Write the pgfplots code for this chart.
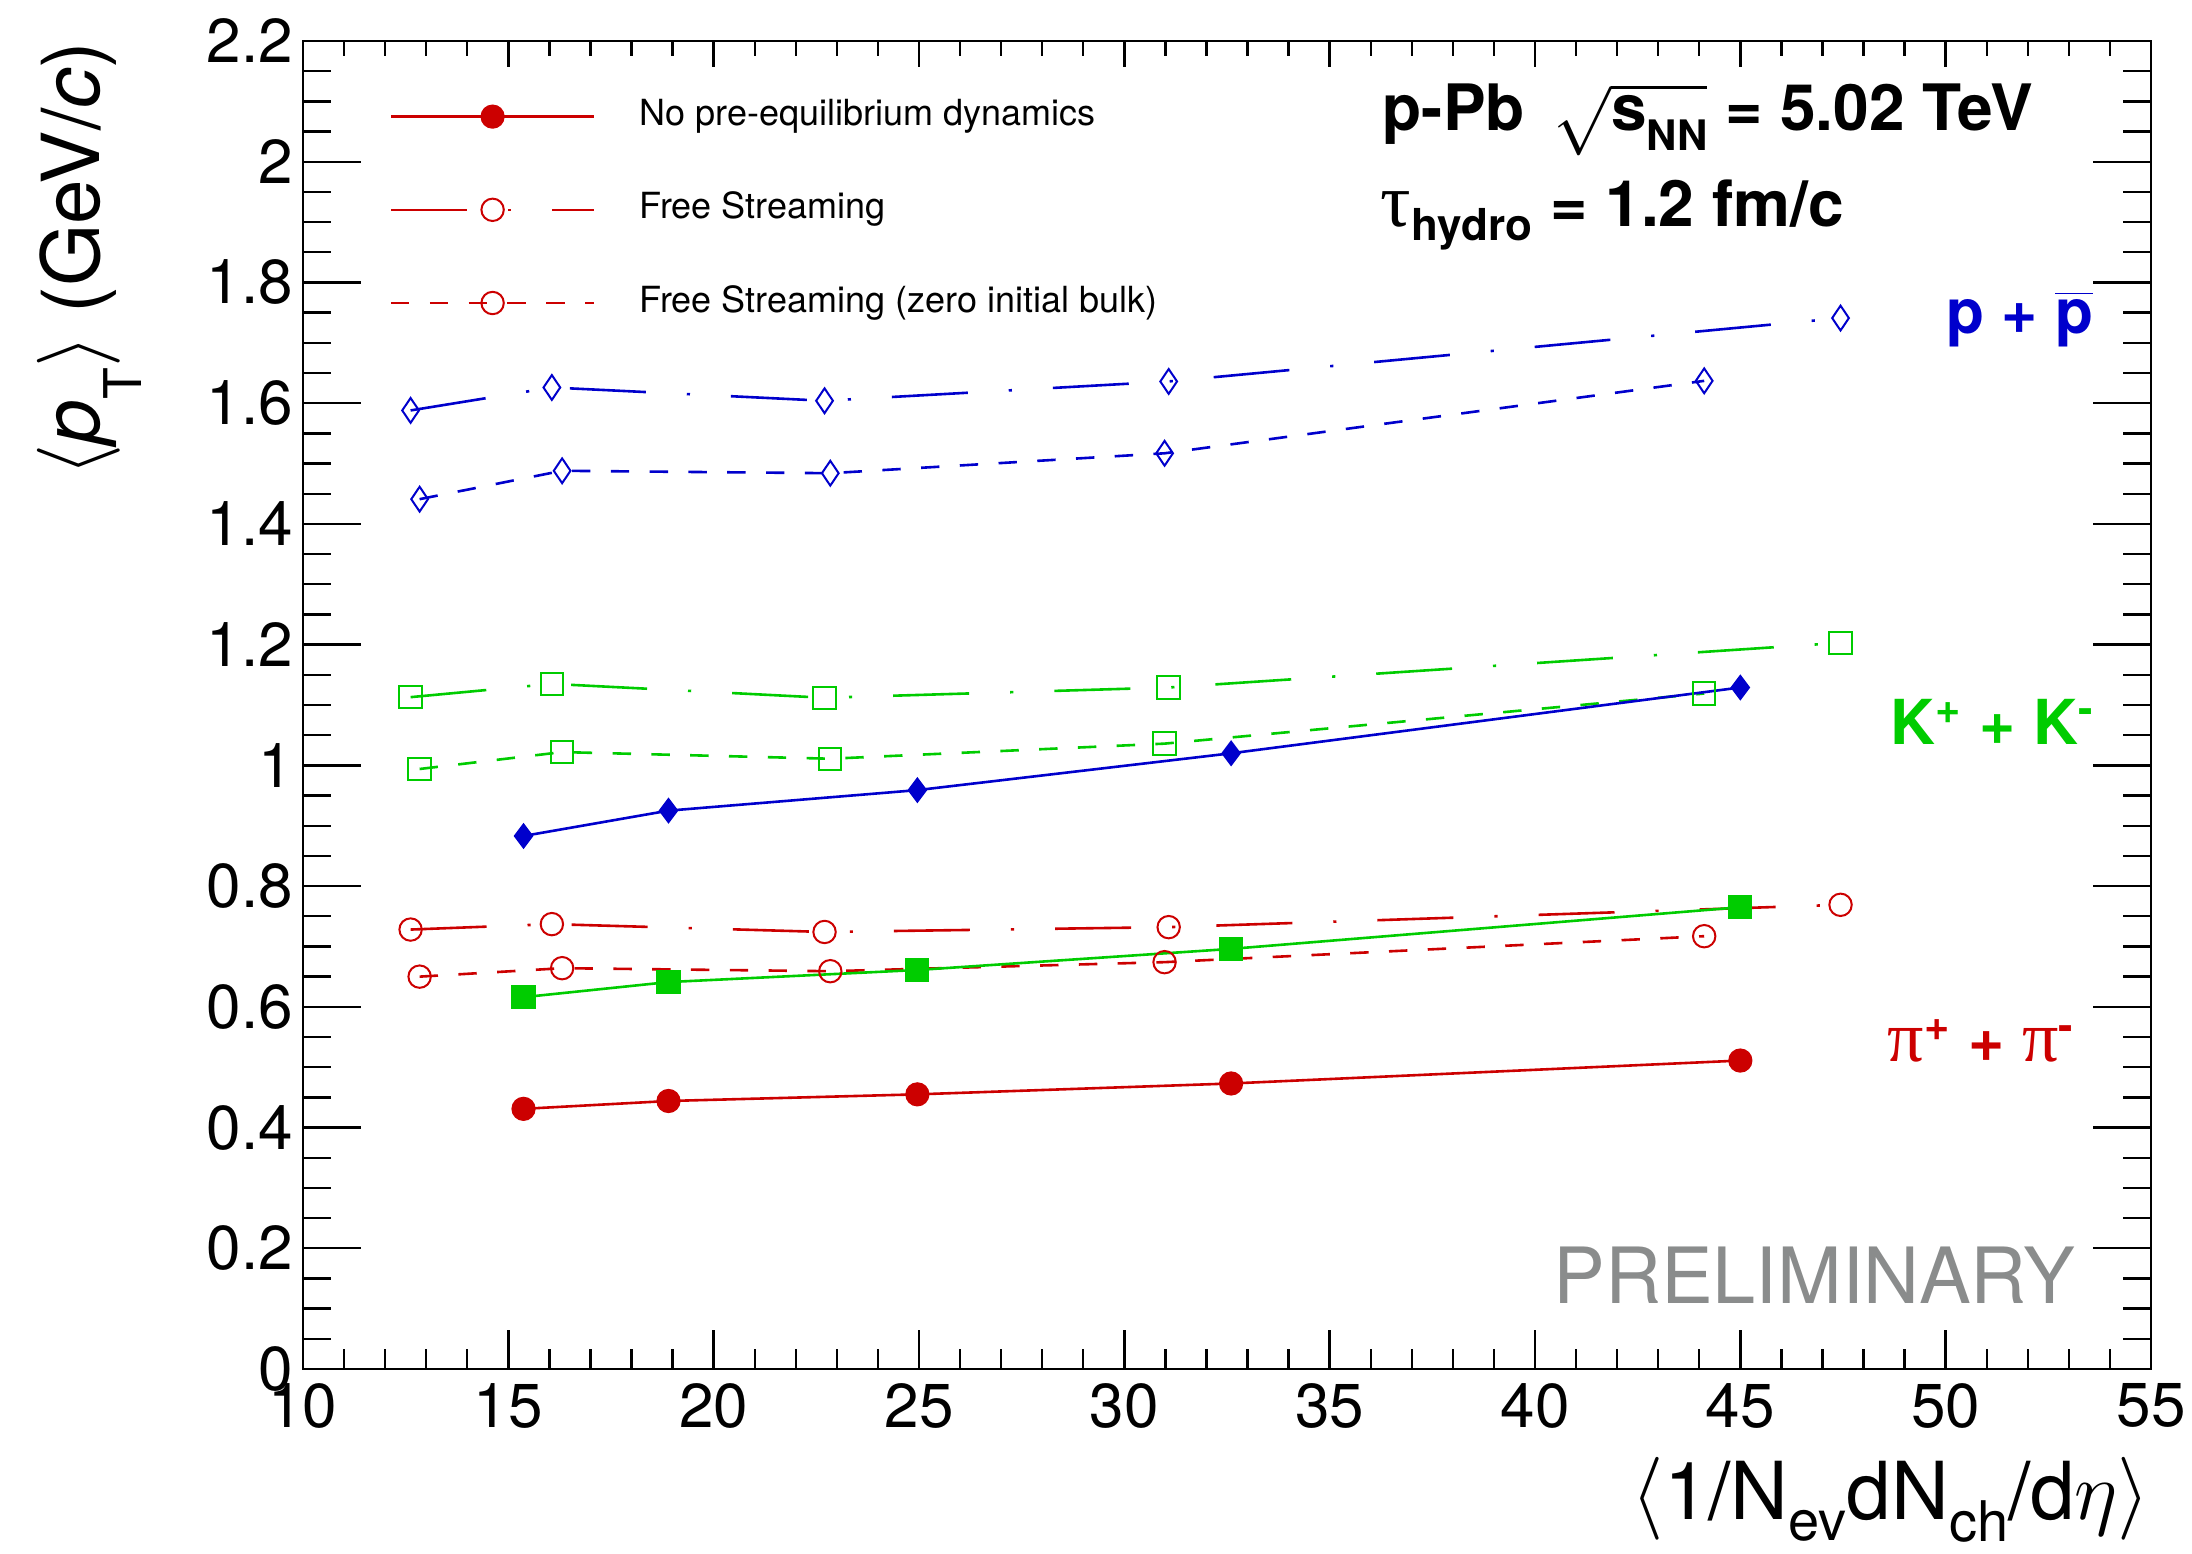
\documentclass[border=0pt]{standalone}
\usepackage{fontspec}
\setmainfont{TeX Gyre Heros}
\newfontfamily\greekfont{Liberation Serif}
\usepackage{pgfplots}
\usepackage{pgfplotstable}
\pgfplotsset{compat=1.18}
\definecolor{rootred}{RGB}{204,0,0}
\definecolor{rootgreen}{RGB}{0,204,0}
\definecolor{rootblue}{RGB}{0,0,204}
\definecolor{prelgray}{RGB}{138,140,140}
\newcommand\fsz[1]{\fontsize{#1}{#1}\selectfont}
\newcommand\lowsub[3]{\raisebox{-#1}{\fsz{#2}#3}}

\tikzset{
  dd/.style={dash pattern=on 19pt off 10.25pt on 0.8pt off 10.25pt},
  sd/.style={dash pattern=on 4.6pt off 5.1pt},
}

\pgfplotstableread{
x      red    green  blue
15.37  0.431  0.616  0.883
18.90  0.444  0.641  0.925
24.96  0.455  0.661  0.959
32.60  0.473  0.696  1.020
45.00  0.511  0.765  1.129
}\nopre

\pgfplotstableread{
x      red    green  blue
12.62  0.728  1.113  1.588
16.06  0.737  1.135  1.626
22.70  0.724  1.112  1.604
31.08  0.732  1.129  1.636
47.44  0.769  1.203  1.741
}\fs

\pgfplotstableread{
x      red    green  blue
12.84  0.650  0.994  1.441
16.31  0.664  1.022  1.488
22.84  0.659  1.011  1.484
30.98  0.674  1.036  1.517
44.12  0.717  1.119  1.637
}\zb

\pgfplotsset{
  common/.style={
    scale only axis, width=462pt, height=332pt,
    xmin=10, xmax=55, ymin=0, ymax=2.2,
    xtick={10,15,...,55}, minor x tick num=4,
    ytick={0,0.2,0.4,0.6,0.8,1,1.2,1.4,1.6,1.8,2,2.2}, minor y tick num=3,
    tick align=inside,
    tick style={line width=0.6pt, black},
    axis line style={line width=0.6pt},
  },
  legimg/.style={legend image code/.code={
    \draw[mark repeat=2,mark phase=2,##1] plot coordinates {(0pt,0pt) (25.4pt,0pt) (50.8pt,0pt)};}},
}

\begin{document}
\begin{tikzpicture}
\begin{axis}[common,
  major tick length=6.5pt, minor tick length=3.75pt,
  /pgf/number format/assume math mode=true,
  tick label style={font=\fsz{15.5}},
  yticklabel style={xshift=1pt},
  xlabel={$\langle$1/N\lowsub{5.25pt}{14}{ev}dN\lowsub{5.5pt}{14}{ch}/d$\eta\rangle$},
  ylabel={$\langle$\textit{p}\lowsub{10.5pt}{13}{T}$\rangle$ (GeV/\textit{c})},
  xlabel style={at={(rel axis cs:1,-0.113)}, anchor=base east, inner sep=0pt, font=\fsz{20}},
  ylabel style={at={(rel axis cs:-0.1099,1)}, anchor=base east, inner sep=0pt, font=\fsz{20}},
  legimg,
  legend cell align=left,
  legend style={at={(rel axis cs:0.040,0.9625)}, anchor=north west, draw=none, fill=none,
    font=\fsz{9}, row sep=14.8pt, column sep=11pt,
    nodes={inner sep=0pt, text height=6.5pt, text depth=2pt}},
]
\addlegendimage{rootred, solid, line width=0.65pt, mark=*, mark size=2.7pt}
\addlegendentry{No pre-equilibrium dynamics}
\addlegendimage{rootred, dd, line width=0.65pt, mark=o, mark size=2.8pt, mark options={solid, line width=0.5pt}}
\addlegendentry{Free Streaming}
\addlegendimage{rootred, sd, line width=0.65pt, mark=o, mark size=2.8pt, mark options={solid, line width=0.5pt}}
\addlegendentry{Free Streaming (zero initial bulk)}

% Free streaming (long dash-dot)
\addplot[forget plot, rootred, dd, line width=0.65pt, mark=o, mark size=2.8pt, mark options={solid, line width=0.5pt}] table[x=x, y=red] {\fs};
\addplot[forget plot, rootgreen, dd, line width=0.65pt, mark=square, mark size=2.8pt, mark options={solid, line width=0.5pt}] table[x=x, y=green] {\fs};
\addplot[forget plot, rootblue, dd, line width=0.65pt, mark=diamond, mark size=3.1pt, mark options={solid, line width=0.5pt, xscale=0.9}] table[x=x, y=blue] {\fs};
% Free streaming zero bulk (dashed)
\addplot[forget plot, rootred, sd, line width=0.65pt, mark=o, mark size=2.8pt, mark options={solid, line width=0.5pt}] table[x=x, y=red] {\zb};
\addplot[forget plot, rootgreen, sd, line width=0.65pt, mark=square, mark size=2.8pt, mark options={solid, line width=0.5pt}] table[x=x, y=green] {\zb};
\addplot[forget plot, rootblue, sd, line width=0.65pt, mark=diamond, mark size=3.1pt, mark options={solid, line width=0.5pt, xscale=0.9}] table[x=x, y=blue] {\zb};
% No pre-equilibrium (solid)
\addplot[forget plot, rootred, solid, line width=0.65pt, mark=*, mark size=2.7pt] table[x=x, y=red] {\nopre};
\addplot[forget plot, rootgreen, solid, line width=0.65pt, mark=square*, mark size=2.7pt] table[x=x, y=green] {\nopre};
\addplot[forget plot, rootblue, solid, line width=0.65pt, mark=diamond*, mark size=2.75pt] table[x=x, y=blue] {\nopre};

\node[anchor=base west, inner sep=0pt, font=\fsz{16}\bfseries] at (axis cs:36.27,2.051)
  {p-Pb\hspace{0.45em}$\sqrt{\mbox{s\lowsub{5pt}{10.5}{NN}}}$ = 5.02 TeV};
\node[anchor=base west, inner sep=0pt, font=\fsz{16}\bfseries] at (axis cs:36.22,1.892)
  {{\mdseries\greekfont\fsz{19}τ}\lowsub{3.5pt}{11}{hydro} = 1.2 fm/c};
\node[anchor=base west, inner sep=0pt, text=rootblue, font=\fsz{15.5}\bfseries] at (axis cs:50.0,1.716)
  {p + $\overline{\mbox{p}}$};
\node[anchor=base west, inner sep=0pt, text=rootgreen, font=\fsz{15.5}\bfseries] at (axis cs:48.64,1.035)
  {K\textsuperscript{+} + K\textsuperscript{-}};
\node[anchor=base west, inner sep=0pt, text=rootred, font=\fsz{15.5}\bfseries] at (axis cs:48.57,0.509)
  {{\mdseries\greekfont\fsz{18}π}\textsuperscript{+} + {\mdseries\greekfont\fsz{18}π}\textsuperscript{-}};
\node[anchor=base east, inner sep=0pt, text=prelgray, font=\fsz{19.4}] at (axis cs:53.17,0.108) {PRELIMINARY};
\end{axis}

\begin{axis}[common,
  xtick pos=left,
  major tick length=9.8pt, minor tick length=4.9pt,
  xticklabels={}, yticklabels={},
  axis line style={draw=none},
]
\end{axis}
\begin{axis}[common,
  xtick=\empty,
  major tick length=14.5pt, minor tick length=7pt,
  yticklabels={},
  axis line style={draw=none},
]
\end{axis}
\pgfresetboundingbox
\useasboundingbox (-75.75pt,-46pt) rectangle (472.25pt,342.25pt);
\end{tikzpicture}
\end{document}
